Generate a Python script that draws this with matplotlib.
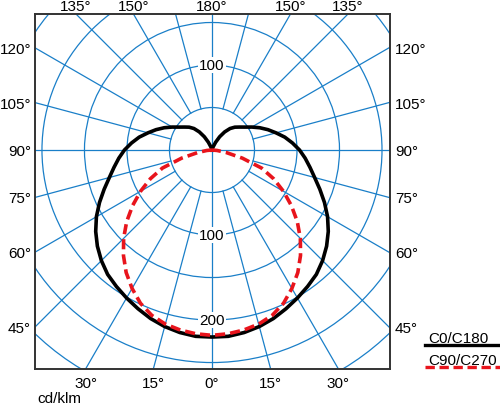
import numpy as np
import matplotlib
matplotlib.use('Agg')
import matplotlib.pyplot as plt
from matplotlib.patches import Circle
from matplotlib.lines import Line2D

# luminous intensity, cd/klm, gamma angle measured from nadir
gamma = [0, 5, 10, 15, 20, 25, 30, 35, 40, 45, 50, 55, 60, 65, 70, 75, 80, 85, 90,
         95, 100, 105, 110, 115, 120, 125, 130, 135, 140, 145, 150, 155, 160, 165, 170, 175, 180]
c0_c180 = [220, 220, 218, 215, 211, 206, 201, 196, 191, 184, 176, 167, 157, 146, 135, 125, 117, 110, 103,
           95, 87, 78, 70, 62, 54, 47, 42, 38, 33, 26, 18, 10, 4, 1, 0, 0, 0]
gamma_c90 = [0, 5, 10, 15, 20, 25, 30, 35, 40, 45, 50, 55, 60, 65, 70, 75, 80, 85, 90]
c90_c270 = [218, 217, 215, 212, 207, 199, 188, 176, 162, 147, 131, 114, 97, 80, 62, 37, 17, 6, 0]

rings = [50, 100, 150, 200, 250, 300]
ring_labels = [(100, 1), (100, -1), (200, -1)]
spokes = [15, 30, 45, 60, 75, 105, 120, 135, 150, 165]
left_labels = [45, 60, 75, 90, 105, 120]
bottom_labels = [0, 15, 30]
top_labels = [135, 150, 180]

grid_c = '#1a7fc8'
font = 'Liberation Sans'
fs = 11

fig = plt.figure(figsize=(5, 4.06), dpi=100)
ax = fig.add_axes([35 / 500, 36 / 406, 355 / 500, 355 / 406])
x0, x1, y0, y1 = -208.2, 209.4, -257.6, 160.0
ax.set_xlim(x0, x1)
ax.set_ylim(y0, y1)
ax.set_xticks([])
ax.set_yticks([])
for s in ax.spines.values():
    s.set_color('#333333')
    s.set_linewidth(1.4)

# polar grid
for r in rings:
    ax.add_patch(Circle((0, 0), r, fill=False, ec=grid_c, lw=0.9, zorder=1))
for a in spokes:
    t = np.radians(a)
    for side in (-1, 1):
        ax.plot([side * 50 * np.sin(t), side * 500 * np.sin(t)],
                [-50 * np.cos(t), -500 * np.cos(t)], color=grid_c, lw=0.9, zorder=1)
ax.axhline(0, color=grid_c, lw=0.9, zorder=1)
ax.axvline(0, color=grid_c, lw=0.9, zorder=1)

for val, sgn in ring_labels:
    ax.text(0, sgn * val, str(val), ha='center', va='center', fontsize=fs, family=font,
            bbox=dict(fc='white', ec='none', pad=1.0), zorder=3)

# curves
g = np.radians(np.array(gamma))
I = np.array(c0_c180)
bx = np.concatenate([-I[::-1] * np.sin(g[::-1]), I[1:] * np.sin(g[1:])])
by = np.concatenate([-I[::-1] * np.cos(g[::-1]), -I[1:] * np.cos(g[1:])])
ax.plot(bx, by, color='black', lw=2.6, zorder=4, solid_joinstyle='round')

g2 = np.radians(np.array(gamma_c90))
I2 = np.array(c90_c270)
rx = np.concatenate([-I2[::-1] * np.sin(g2[::-1]), I2[1:] * np.sin(g2[1:])])
ry = np.concatenate([-I2[::-1] * np.cos(g2[::-1]), -I2[1:] * np.cos(g2[1:])])
ax.plot(rx, ry, color='#e8141c', lw=2.6, ls=(0, (2.8, 1.4)), zorder=5)

# angle labels round the frame
for a in left_labels:
    t = np.radians(a)
    y = x0 * np.cos(t) / np.sin(t)
    ax.annotate(f'{a}°', (x0, y), xytext=(-4, -5), textcoords='offset pixels',
                ha='right', va='baseline', fontsize=fs, family=font, annotation_clip=False)
    ax.annotate(f'{a}°', (x1, y), xytext=(5, -5), textcoords='offset pixels',
                ha='left', va='baseline', fontsize=fs, family=font, annotation_clip=False)
for a in bottom_labels:
    xb = -y0 * np.tan(np.radians(a))
    for side in ((-1, 1) if a else (1,)):
        ax.annotate(f'{a}°', (side * xb, y0), xytext=(0, -18), textcoords='offset pixels',
                    ha='center', va='baseline', fontsize=fs, family=font, annotation_clip=False)
for a in top_labels:
    xt = y1 * np.tan(np.radians(180 - a))
    for side in ((-1, 1) if a != 180 else (1,)):
        ax.annotate(f'{a}°', (side * xt, y1), xytext=(0, 4), textcoords='offset pixels',
                    ha='center', va='baseline', fontsize=fs, family=font, annotation_clip=False)

fig.text(37 / 500, 1 - 403 / 406, 'cd/klm', fontsize=fs, family=font, ha='left', va='baseline')

# legend
fig.text(428 / 500, 1 - 343 / 406, 'C0/C180', fontsize=fs, family=font, ha='left', va='baseline')
fig.add_artist(Line2D([425 / 500, 1.0], [1 - 346 / 406] * 2, color='black', lw=2.4,
                      transform=fig.transFigure))
fig.text(428 / 500, 1 - 365 / 406, 'C90/C270', fontsize=fs, family=font, ha='left', va='baseline')
fig.add_artist(Line2D([425 / 500, 1.0], [1 - 368 / 406] * 2, color='#e8141c', lw=2.4,
                      ls=(0, (2.8, 1.4)), transform=fig.transFigure))

fig.savefig('out.png', dpi=100)
